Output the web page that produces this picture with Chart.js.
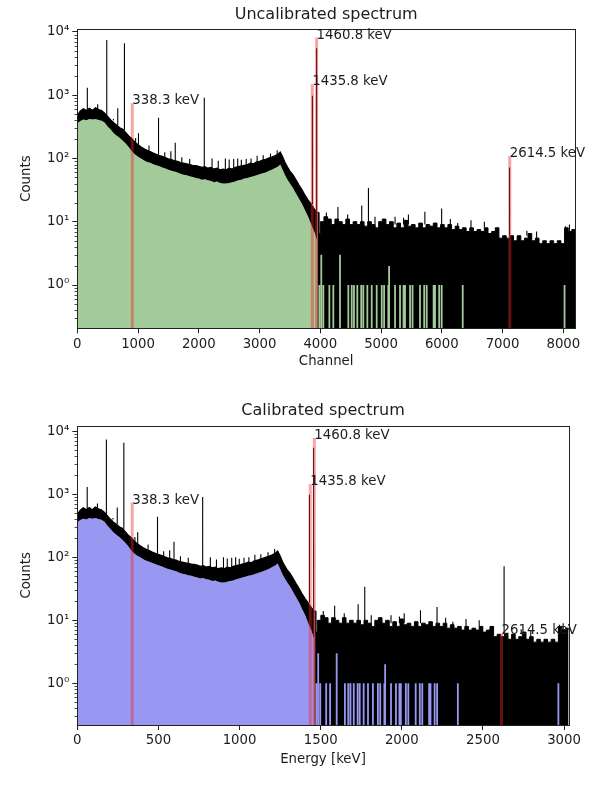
<!DOCTYPE html>
<html>
<head>
<meta charset="utf-8">
<script src="https://cdn.jsdelivr.net/npm/chart.js@4.4.1/dist/chart.umd.min.js"></script>
<style>
html, body { margin: 0; padding: 0; background: #ffffff; }
#wrap { position: relative; width: 609px; height: 785px; overflow: hidden; background: #ffffff; }
canvas { position: absolute; left: 0; }
</style>
</head>
<body>
<div id="wrap">
  <canvas id="uncal" width="609" height="380" style="top:0px;width:609px;height:380px"></canvas>
  <canvas id="cal" width="609" height="390" style="top:395px;width:609px;height:390px"></canvas>
</div>
<script>
// ---------------- DATA ----------------
const channelMax = 8192;
const calSlope = 0.3697;   // keV per channel (energy calibration)
const calOffset = 0;

const channelTicks = [0, 1000, 2000, 3000, 4000, 5000, 6000, 7000, 8000];
const energyTicks = [0, 500, 1000, 1500, 2000, 2500, 3000];
const countTickExponents = [0, 1, 2, 3, 4];

// Continuum (channels 0-3950): upper and lower edge of the noisy black trace
const bandChannels = [0, 50, 100, 150, 200, 250, 300, 350, 400, 450, 500, 550, 600, 650, 700, 750, 800, 850, 900, 950,
  1000, 1050, 1100, 1150, 1200, 1250, 1300, 1350, 1400, 1450, 1500, 1550, 1600, 1650, 1700, 1750, 1800, 1850, 1900, 1950,
  2000, 2050, 2100, 2150, 2200, 2250, 2300, 2350, 2400, 2450, 2500, 2550, 2600, 2650, 2700, 2750, 2800, 2850, 2900, 2950,
  3000, 3050, 3100, 3150, 3200, 3250, 3300, 3340, 3380, 3420, 3460, 3500, 3550, 3600, 3650, 3700, 3750, 3800, 3850, 3900, 3950];
const bandHigh = [480, 560, 610, 570, 620, 570, 630, 590, 570, 520, 460, 405, 365, 335, 305, 290, 255, 225, 205, 180,
  165, 152, 142, 134, 128, 121, 116, 111, 108, 103, 98, 96, 92, 90, 86, 84, 82, 80, 78, 77,
  75, 72, 74, 70, 72, 68, 70, 66, 68, 66, 70, 68, 72, 74, 76, 78, 80, 84, 82, 88,
  90, 94, 97, 101, 105, 110, 116, 126, 106, 86, 73, 63, 55, 46, 38, 32, 26, 22, 19, 16, 14];
const bandLow = [360, 390, 410, 400, 420, 410, 420, 405, 395, 370, 320, 285, 250, 228, 210, 190, 170, 150, 128, 115,
  106, 100, 93, 88, 85, 81, 78, 75, 72, 69, 66, 64, 62, 60, 57, 55, 54, 52, 51, 49,
  48, 46, 47, 45, 44, 42, 43, 41, 40, 40, 41, 42, 43, 45, 46, 48, 49, 51, 52, 54,
  56, 58, 60, 63, 66, 70, 74, 80, 66, 54, 46, 40, 34, 28, 23, 19, 15, 12, 9, 7, 5];

// High-energy tail (channels 3950-8192): top of the dense black noise band
const tailChannels = [3950, 3980, 4000, 4060, 4120, 4180, 4240, 4300, 4360, 4420, 4480, 4540, 4600, 4660, 4720, 4780, 4840, 4900, 4960,
  5020, 5080, 5140, 5200, 5260, 5320, 5380, 5440, 5500, 5560, 5620, 5680, 5740, 5800, 5860, 5920, 5980,
  6040, 6100, 6160, 6220, 6280, 6340, 6400, 6460, 6520, 6580, 6640, 6700, 6760, 6820, 6880, 6940,
  7000, 7060, 7120, 7180, 7240, 7300, 7360, 7420, 7480, 7540, 7600, 7660, 7720, 7780, 7840, 7900, 7960,
  8020, 8080, 8140, 8192];
const tailHigh = [14, 6.5, 10, 12, 11, 9, 11, 10, 9, 11, 9, 10, 9, 10, 8.5, 10, 9, 8, 10,
  11, 9, 10, 8, 9.5, 8, 10.5, 8.5, 9, 8, 9.5, 8, 9, 8.5, 9.5, 8, 9,
  8, 9, 7.5, 8.5, 7.5, 8, 7, 8, 7, 7.5, 7, 8, 6.5, 7, 8, 5.5,
  6, 5.5, 6, 5, 6, 5, 5.5, 6.5, 5, 5.5, 4.5, 5, 4.5, 5, 4.5, 5, 4.5,
  8, 7, 7.5, 7];

// Narrow gamma lines / fluctuations sticking out of the spectrum: channel, level at foot, peak counts
const lineChannels = [165, 336, 485, 595, 666, 776, 960, 1007, 1180, 1337, 1440, 1540, 1612, 1720, 1850, 2090, 2218, 2320,
  2437, 2500, 2574, 2640, 2700, 2780, 2860, 2960, 3060, 3180, 3290,
  3870, 3939, 4100, 4290, 4450, 4682, 4792, 4900, 5230, 5370, 5450, 5721, 5997, 6140, 6261, 6480, 6700,
  7115, 7400, 7560, 8036, 8100];
const lineBase = [560, 600, 470, 400, 335, 280, 175, 160, 132, 114, 104, 97, 92, 86, 80, 74, 70, 68,
  66, 70, 68, 72, 76, 78, 84, 88, 94, 101, 116,
  19, 15, 11, 10, 10, 9, 9, 8, 9, 9, 9, 9, 9, 8, 8, 8, 8,
  6, 6, 5.5, 7, 7];
const linePeak = [1310, 716, 7400, 420, 620, 6600, 210, 250, 160, 440, 125, 130, 177, 104, 98, 910, 100, 92,
  100, 96, 98, 100, 95, 98, 100, 110, 112, 120, 135,
  980, 5480, 14, 17, 13, 18, 34, 12, 12, 11.5, 13, 14.4, 16.2, 11, 9.5, 10.5, 10,
  72, 7.2, 7, 8.5, 9];

// Channels where the spectrum is non-zero below one count (fill visible through the black)
const gapChannels = [3984, 4016, 4050, 4149, 4214, 4324, 4461, 4517, 4554, 4609, 4673, 4708, 4774, 4846, 4928,
  5011, 5050, 5119, 5132, 5230, 5312, 5370, 5394, 5477, 5518, 5641, 5710, 5751, 5865, 5888, 5957, 5998, 6344, 8020];
const gapTop = [1, 3, 1, 1, 1, 3, 1, 1, 1, 1, 1, 1, 1, 1, 1,
  1, 1, 1, 2, 1, 1, 1, 1, 1, 1, 1, 1, 1, 1, 1, 1, 1, 1, 1];

// Calibration peaks
const peakLabels = ['338.3 keV', '1435.8 keV', '1460.8 keV', '2614.5 keV'];
const peakChannels = [905, 3868, 3939, 7118];
const peakCountsUncal = [740, 1480, 8100, 109];
const peakEnergies = [338.3, 1435.8, 1460.8, 2614.5];
const peakCountsCal = [740, 1450, 7800, 6.2];

// ---------------- CHART ----------------
const FONT = "'DejaVu Sans', 'Liberation Sans', sans-serif";
const TXT = '#1c1c1c';
const SUP = ['\u2070', '\u00B9', '\u00B2', '\u00B3', '\u2074'];

function makeSpectrum(id, o) {
  const toX = o.toX;
  const pts = (xs, ys) => xs.map((c, i) => ({ x: toX(c), y: ys[i] }));
  const segs = (xs, y0, ys) => xs.flatMap((c, i) => [
    { x: c, y: y0[i] }, { x: c, y: ys[i] }, { x: c, y: null }]);

  const datasets = [
    { label: 'fill', data: pts(bandChannels, bandLow), fill: 'start', backgroundColor: o.fillColor,
      borderWidth: 0, pointRadius: 0, order: 6 },
    { label: 'trace', data: pts(bandChannels, bandHigh), fill: 0, backgroundColor: '#000',
      borderColor: '#000', borderWidth: 1.2, pointRadius: 0, order: 5 },
    { label: 'tail', data: pts(tailChannels, tailHigh), fill: 'start', backgroundColor: '#000',
      borderColor: '#000', borderWidth: 1, pointRadius: 0, stepped: true, order: 4 },
    { label: 'gaps', data: segs(gapChannels.map(toX), gapChannels.map(() => o.yMin), gapTop),
      borderColor: o.fillColor, borderWidth: 1.8, pointRadius: 0, fill: false, spanGaps: false, order: 3 },
    { label: 'lines', data: segs(lineChannels.map(toX), lineBase, linePeak),
      borderColor: '#000', borderWidth: 1.1, pointRadius: 0, fill: false, spanGaps: false, order: 2 },
    { label: 'peaks', data: segs(o.peakX, o.peakX.map(() => o.yMin), o.peakY),
      borderColor: 'rgba(235,40,40,0.42)', borderWidth: 3, pointRadius: 0, fill: false, spanGaps: false, order: 1 }
  ];

  const framePlugin = {
    id: 'frame',
    afterDraw(chart) {
      const { ctx, chartArea: a, scales } = chart;
      const ys = scales.y;
      ctx.save();
      // minor log ticks
      ctx.strokeStyle = '#222';
      ctx.lineWidth = 0.8;
      for (let e = -1; e <= 4; e++) {
        for (let k = 2; k <= 9; k++) {
          const v = k * Math.pow(10, e);
          if (v < o.yMin || v > o.yMax) continue;
          const py = Math.round(ys.getPixelForValue(v)) + 0.5;
          ctx.beginPath(); ctx.moveTo(a.left - 2.8, py); ctx.lineTo(a.left, py); ctx.stroke();
        }
      }
      // spines
      ctx.lineWidth = 1;
      ctx.strokeStyle = '#222';
      ctx.strokeRect(Math.round(a.left) + 0.5, Math.round(a.top) + 0.5,
        Math.round(a.right) - Math.round(a.left), Math.round(a.bottom) - Math.round(a.top));
      // title
      ctx.fillStyle = TXT;
      ctx.font = '16px ' + FONT;
      ctx.textAlign = 'center';
      ctx.textBaseline = 'middle';
      ctx.fillText(o.title, (a.left + a.right) / 2, o.titleY);
      // peak annotations
      ctx.font = '13.3px ' + FONT;
      ctx.textAlign = 'left';
      ctx.textBaseline = 'alphabetic';
      peakLabels.forEach((t, i) => {
        const px = scales.x.getPixelForValue(o.peakX[i]);
        const py = ys.getPixelForValue(o.peakY[i]);
        ctx.fillText(t, px, py + 1);
      });
      ctx.restore();
    }
  };

  return new Chart(document.getElementById(id), {
    type: 'line',
    data: { datasets },
    options: {
      responsive: false,
      animation: false,
      events: [],
      layout: { padding: { left: 0, top: o.padTop, right: o.padRight, bottom: 0 } },
      elements: { line: { tension: 0 } },
      plugins: { legend: { display: false }, title: { display: false }, tooltip: { enabled: false } },
      scales: {
        x: {
          type: 'linear', min: 0, max: o.xMax,
          afterBuildTicks: s => { s.ticks = o.xTicks.map(v => ({ value: v })); },
          afterFit: s => { s.height = o.xHeight; },
          ticks: { color: TXT, font: { size: 13.3, family: FONT }, padding: 3, maxRotation: 0,
            callback: v => String(v) },
          grid: { drawOnChartArea: false, drawTicks: true, tickLength: 5, tickColor: '#222', tickWidth: 1 },
          border: { display: false },
          title: { display: true, text: o.xLabel, color: TXT, font: { size: 13.3, family: FONT },
            padding: { top: 0, bottom: o.xTitlePad } }
        },
        y: {
          type: 'logarithmic', min: o.yMin, max: o.yMax,
          afterBuildTicks: s => { s.ticks = countTickExponents.map(e => ({ value: Math.pow(10, e) })); },
          afterFit: s => { s.width = 77.3; },
          ticks: { color: TXT, font: { size: 13.3, family: FONT }, padding: 3,
            callback: v => '10' + SUP[Math.round(Math.log10(v))] },
          grid: { drawOnChartArea: false, drawTicks: true, tickLength: 5, tickColor: '#222', tickWidth: 1 },
          border: { display: false },
          title: { display: true, text: 'Counts', color: TXT, font: { size: 13.3, family: FONT },
            padding: { top: 19, bottom: 0 } }
        }
      }
    },
    plugins: [framePlugin]
  });
}

makeSpectrum('uncal', {
  title: 'Uncalibrated spectrum', xLabel: 'Channel', titleY: 15,
  toX: c => c, xMax: channelMax, xTicks: channelTicks,
  yMin: 0.207, yMax: 11070, fillColor: 'rgb(163,202,153)',
  peakX: peakChannels, peakY: peakCountsUncal,
  padTop: 29, padRight: 34, xHeight: 51.7, xTitlePad: 10
});

makeSpectrum('cal', {
  title: 'Calibrated spectrum', xLabel: 'Energy [keV]', titleY: 16,
  toX: c => calSlope * c + calOffset, xMax: calSlope * channelMax + calOffset, xTicks: energyTicks,
  yMin: 0.218, yMax: 12270, fillColor: 'rgb(152,152,242)',
  peakX: peakEnergies, peakY: peakCountsCal,
  padTop: 30.7, padRight: 40.3, xHeight: 60, xTitlePad: 17
});
</script>
</body>
</html>
